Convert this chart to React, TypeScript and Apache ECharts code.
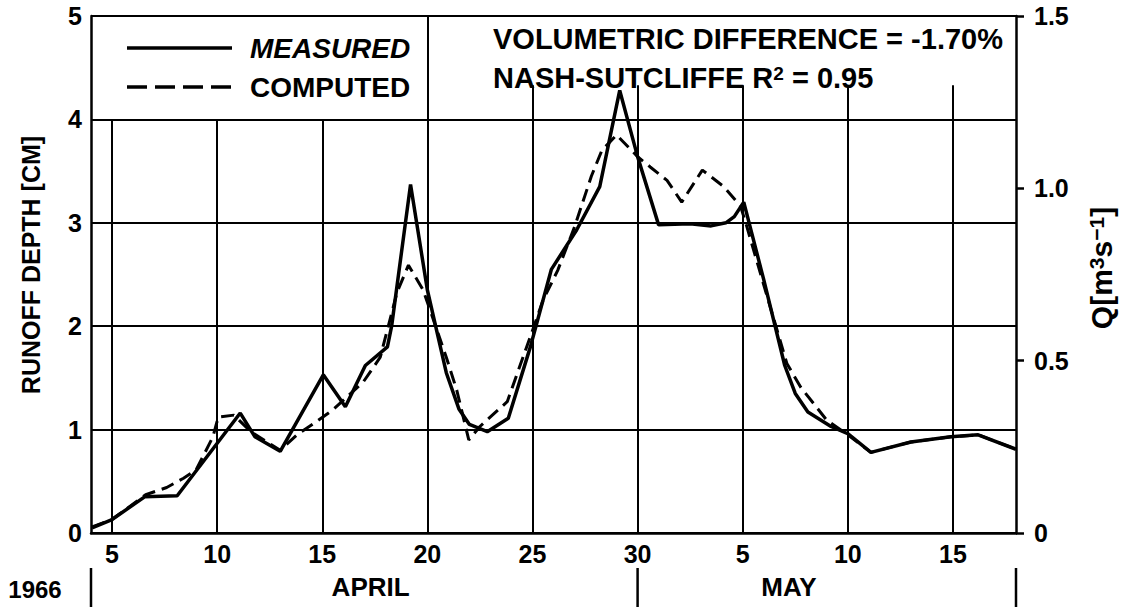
import React, { useEffect, useRef } from 'react';
import * as echarts from 'echarts';

// Day index: April d -> d, May d -> 30 + d
const measuredDays = [4.05, 5, 6.55, 8.1, 11.1, 11.8, 13, 15.05, 16.1, 17.05, 18.1, 18.3, 19.2, 20.0, 20.9, 21.5, 22.0, 22.85, 23.85, 24.9, 25.9, 27.1, 28.2, 29.15, 30.0, 31.0, 32.5, 33.5, 34.2, 34.6, 35.05, 36.0, 37.0, 37.5, 38.1, 39.2, 40.0, 41.1, 43.0, 44.9, 46.2, 48.0];
const measuredDepth = [0.05, 0.13, 0.35, 0.36, 1.16, 0.93, 0.79, 1.53, 1.22, 1.62, 1.8, 2.0, 3.37, 2.35, 1.55, 1.2, 1.05, 0.98, 1.11, 1.8, 2.55, 2.93, 3.35, 4.28, 3.64, 2.98, 2.99, 2.97, 3.0, 3.06, 3.2, 2.45, 1.62, 1.35, 1.17, 1.03, 0.96, 0.78, 0.88, 0.93, 0.95, 0.81];

const computedDays = [4.05, 5, 6.6, 7.6, 8.4, 9.0, 9.8, 10.05, 10.8, 11.6, 13.0, 13.8, 14.6, 15.5, 16.95, 17.76, 18.56, 19.1, 19.8, 20.9, 21.4, 21.97, 22.5, 23.8, 24.9, 25.5, 26.2, 27.0, 27.8, 28.3, 29.0, 30.0, 30.6, 31.4, 32.1, 33.08, 34.1, 34.9, 35.2, 36.0, 37.1, 37.76, 39.0, 40.0, 41.1, 43.0, 44.9, 46.2, 48.0];
const computedDepth = [0.06, 0.13, 0.37, 0.44, 0.53, 0.61, 0.93, 1.12, 1.14, 0.98, 0.8, 0.95, 1.06, 1.19, 1.46, 1.7, 2.33, 2.59, 2.35, 1.7, 1.38, 0.9, 1.03, 1.27, 1.9, 2.25, 2.54, 2.96, 3.45, 3.7, 3.85, 3.64, 3.54, 3.41, 3.2, 3.51, 3.35, 3.16, 2.96, 2.4, 1.64, 1.41, 1.09, 0.95, 0.78, 0.88, 0.93, 0.95, 0.81];

const dayTicks = [5, 10, 15, 20, 25, 30, 35, 40, 45];
const shortGridDays = [5, 10, 15];
const boxEdgeDays = [20];
const tallGridDays = [25, 30, 35, 40, 45];
const monthBracketDays = [4, 30, 48];
const monthLabels = ['APRIL', 'MAY'];
const monthLabelDays = [17.3, 37.2];
const legendNames = ['MEASURED', 'COMPUTED'];
const statLines = ['VOLUMETRIC DIFFERENCE = -1.70%', 'NASH-SUTCLIFFE R{sup|2} = 0.95'];

const FONT = '"Liberation Sans", Arial, Helvetica, sans-serif';

export default function App() {
  const ref = useRef<HTMLDivElement>(null);
  useEffect(() => {
    const chart = echarts.init(ref.current!, null, { renderer: 'svg' });
    const lineSeg = (d: number, top: number) => [{ coord: [d, 0] }, { coord: [d, top] }];
    const option: any = {
      animation: false,
      backgroundColor: '#fff',
      textStyle: { fontFamily: FONT },
      grid: { left: 91, right: 112, top: 16, bottom: 74, containLabel: false },
      xAxis: {
        type: 'value', min: 4, max: 48,
        axisLine: { show: true, lineStyle: { color: '#000', width: 2.5 } },
        axisTick: { show: false },
        splitLine: { show: false },
        axisLabel: {
          customValues: dayTicks,
          formatter: (v: number) => String(v > 30 ? v - 30 : v),
          color: '#000', fontSize: 25, fontWeight: 'bold', fontFamily: FONT, margin: 8,
        },
      },
      yAxis: [
        {
          type: 'value', min: 0, max: 5, interval: 1,
          axisLine: { show: true, lineStyle: { color: '#000', width: 2.5 } },
          axisTick: { show: false },
          axisLabel: { color: '#000', fontSize: 25, fontWeight: 'bold', fontFamily: FONT, margin: 9, padding: [6, 0, 0, 0] },
          splitLine: { show: true, lineStyle: { color: '#000', width: 2 } },
        },
        {
          type: 'value', min: 0, max: 1.5, interval: 0.5, position: 'right',
          axisLine: { show: true, lineStyle: { color: '#000', width: 2.5 } },
          axisTick: { show: true, inside: false, length: 8, lineStyle: { color: '#000', width: 2.5 } },
          axisLabel: {
            formatter: (v: number) => (v === 0 ? '0' : v.toFixed(1)),
            color: '#000', fontSize: 25, fontWeight: 'bold', fontFamily: FONT, margin: 18, padding: [4, 0, 0, 0],
          },
          splitLine: { show: false },
        },
      ],
      series: [
        {
          name: 'MEASURED', type: 'line', symbol: 'none', z: 4,
          data: measuredDays.map((d, i) => [d, measuredDepth[i]]),
          lineStyle: { color: '#000', width: 3.5 },
          markLine: {
            silent: true, symbol: ['none', 'none'], label: { show: false },
            lineStyle: { color: '#000', width: 2, type: 'solid' },
            emphasis: { disabled: true },
            data: [
              ...shortGridDays.map((d) => lineSeg(d, 4)),
              ...boxEdgeDays.map((d) => lineSeg(d, 5)),
              ...tallGridDays.map((d) => lineSeg(d, 4.33)),
            ],
          },
        },
        {
          name: 'COMPUTED', type: 'line', symbol: 'none', z: 3,
          data: computedDays.map((d, i) => [d, computedDepth[i]]),
          lineStyle: { color: '#000', width: 3, type: [13, 7] },
        },
      ],
    };
    chart.setOption(option);

    const px = (d: number) => chart.convertToPixel({ xAxisIndex: 0 }, d) as number;
    const graphic: any[] = [
      { type: 'line', shape: { x1: 127, y1: 48, x2: 232, y2: 48 }, style: { stroke: '#000', lineWidth: 3.5 } },
      { type: 'line', shape: { x1: 127, y1: 87, x2: 232, y2: 87 }, style: { stroke: '#000', lineWidth: 3.5, lineDash: [20, 8] } },
      { type: 'text', x: 250, y: 48, style: { text: legendNames[0], fontSize: 28, fontWeight: 'bold', fontStyle: 'italic', fontFamily: FONT, fill: '#000', verticalAlign: 'middle' } },
      { type: 'text', x: 250, y: 87, style: { text: legendNames[1], fontSize: 28, fontWeight: 'bold', fontFamily: FONT, fill: '#000', verticalAlign: 'middle' } },
      { type: 'text', x: 493, y: 39, style: { text: statLines[0], fontSize: 29, fontWeight: 'bold', fontFamily: FONT, fill: '#000', verticalAlign: 'middle' } },
      {
        type: 'text', x: 493, y: 78,
        style: {
          text: statLines[1], fontSize: 29, fontWeight: 'bold', fontFamily: FONT, fill: '#000', verticalAlign: 'middle',
          rich: { sup: { fontSize: 19, fontWeight: 'bold', fontFamily: FONT, fill: '#000', verticalAlign: 'top' } },
        },
      },
      {
        type: 'text', x: 31, y: 265, rotation: Math.PI / 2,
        style: { text: 'RUNOFF DEPTH [CM]', fontSize: 25, fontWeight: 'bold', fontFamily: FONT, fill: '#000', align: 'center', verticalAlign: 'middle' },
      },
      {
        type: 'text', x: 1101, y: 268, rotation: Math.PI / 2,
        style: {
          text: 'Q[m{sup|3}s{sup|−1}]', fontSize: 30, fontWeight: 'bold', fontFamily: FONT, fill: '#000', align: 'center', verticalAlign: 'middle',
          rich: { sup: { fontSize: 21, fontWeight: 'bold', fontFamily: FONT, fill: '#000', verticalAlign: 'top' } },
        },
      },
      { type: 'text', x: 35, y: 589, style: { text: '1966', fontSize: 24, fontWeight: 'bold', fontFamily: FONT, fill: '#000', align: 'center', verticalAlign: 'middle' } },
      ...monthLabels.map((m, i) => ({
        type: 'text', x: px(monthLabelDays[i]), y: 587,
        style: { text: m, fontSize: 26, fontWeight: 'bold', fontFamily: FONT, fill: '#000', align: 'center', verticalAlign: 'middle' },
      })),
      ...monthBracketDays.map((d) => ({
        type: 'line', shape: { x1: px(d), y1: 568, x2: px(d), y2: 607 }, style: { stroke: '#000', lineWidth: 2.5 },
      })),
    ];
    chart.setOption({ graphic });
    return () => chart.dispose();
  }, []);
  return <div ref={ref} style={{ position: 'absolute', left: 0, top: 0, width: 1128, height: 607 }} />;
}
